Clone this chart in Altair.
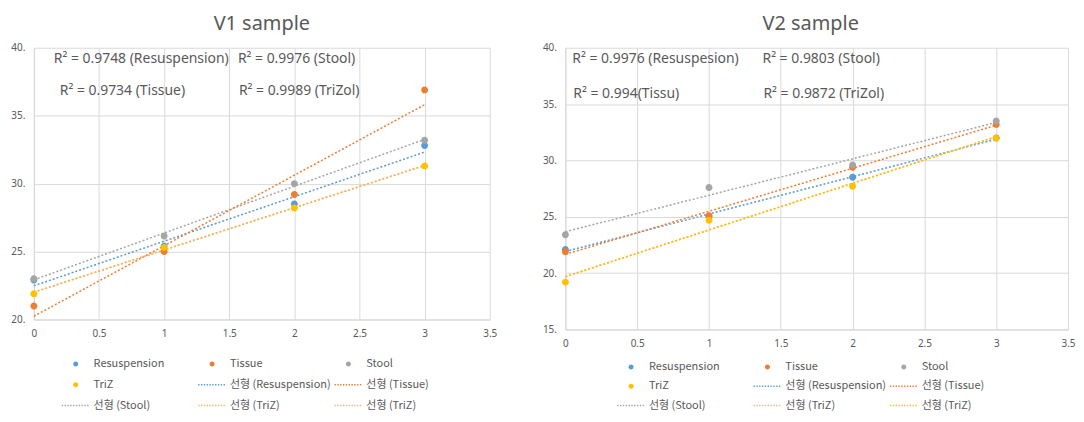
import altair as alt
import pandas as pd

# ---------------- data ----------------
x_vals = [0, 1, 2, 3]
series_names = ["Resuspension", "Tissue", "Stool", "TriZ"]

v1_resuspension = [22.9, 25.4, 28.5, 32.8]
v1_tissue = [21.0, 25.0, 29.2, 36.9]
v1_stool = [23.0, 26.15, 30.0, 33.2]
v1_triz = [21.9, 25.3, 28.2, 31.3]

v2_resuspension = [22.1, 25.0, 28.5, 32.0]
v2_tissue = [21.9, 25.1, 29.4, 33.2]
v2_stool = [23.4, 27.6, 29.6, 33.5]
v2_triz = [19.2, 24.7, 27.7, 32.0]

v1_r2_labels = ["R² = 0.9748 (Resuspension)", "R² = 0.9976 (Stool)",
                "R² = 0.9734 (Tissue)", "R² = 0.9989 (TriZol)"]
v2_r2_labels = ["R² = 0.9976 (Resuspesion)", "R² = 0.9803 (Stool)",
                "R² = 0.994(Tissu)", "R² = 0.9872 (TriZol)"]

trend_names = ["선형 (Resuspension)", "선형 (Tissue)", "선형 (Stool)",
               "선형 (TriZ)", "선형 (TriZ) "]
legend_labels = series_names + trend_names

x_ticks = [0, 0.5, 1, 1.5, 2, 2.5, 3, 3.5]
v1_y_ticks = [20, 25, 30, 35, 40]
v2_y_ticks = [15, 20, 25, 30, 35, 40]

# ---------------- styles ----------------
BLUE, ORANGE, GREY, YELLOW = "#5B9BD5", "#ED7D31", "#A5A5A5", "#FFC000"
LIGHT_ORANGE = "#F4B183"
TEXT = "#595959"
GRID = "#D9D9D9"

point_colors = [BLUE, ORANGE, GREY, YELLOW]

# custom symbol paths (unit box -1..1)
CIRCLE = "M0.24,0A0.24,0.24,0,1,1,-0.24,0A0.24,0.24,0,1,1,0.24,0Z"


def dotted_path(half=1.33, dot=0.13, gap=0.14, t=0.07):
    parts = []
    x = -half
    while x + dot <= half + 1e-9:
        a, b = x, x + dot
        parts.append(f"M{a:.3f},{-t}L{b:.3f},{-t}L{b:.3f},{t}L{a:.3f},{t}Z")
        x += dot + gap
    return "".join(parts)


DOTS = dotted_path()
legend_shapes = [CIRCLE] * 4 + [DOTS] * 5


def panel(title, values, y_min, y_ticks, width, height, r2_labels, r2_pos,
          legend_x, legend_dy, legend_row_pad, trend_colors, title_dx):
    rows = []
    for name, ys in zip(series_names, values):
        for xv, yv in zip(x_vals, ys):
            rows.append({"series": name, "x": xv, "y": yv})
    pts = pd.DataFrame(rows)
    trend_rows = [dict(r, trend="선형 (" + r["series"] + ")") for r in rows]
    trend_rows += [dict(r, trend="선형 (TriZ) ") for r in rows if r["series"] == "TriZ"]
    trend = pd.DataFrame(trend_rows)

    x_enc = alt.X("x:Q", scale=alt.Scale(domain=[0, 3.5], nice=False, zero=False),
                  axis=alt.Axis(values=x_ticks, labelExpr="'' + datum.value", title=None,
                                labelFlush=False))
    y_enc = alt.Y("y:Q", scale=alt.Scale(domain=[y_min, 40], nice=False, zero=False),
                  axis=alt.Axis(values=y_ticks, labelExpr="datum.value + '.'", title=None))

    lines = alt.Chart(trend).transform_regression(
        "x", "y", groupby=["trend"]
    ).mark_line(strokeDash=[2, 2], strokeWidth=1.5).encode(
        x=x_enc, y=y_enc,
        stroke=alt.Stroke("trend:N", scale=alt.Scale(domain=trend_names, range=trend_colors),
                          legend=None),
    )

    leg = alt.Legend(title=None, orient="none", legendX=legend_x, legendY=height + legend_dy,
                     direction="horizontal", columns=3, gridAlign="all", columnPadding=3,
                     rowPadding=legend_row_pad, symbolSize=441, labelFont="Noto Sans CJK KR",
                     labelFontSize=11, labelColor=TEXT, labelOffset=7.5, padding=0,
                     symbolStrokeWidth=0)
    legend_colors = point_colors + trend_colors
    points = alt.Chart(pts).mark_point(filled=True, size=852, opacity=1).encode(
        x=x_enc, y=y_enc,
        color=alt.Color("series:N", scale=alt.Scale(domain=legend_labels, range=legend_colors),
                        legend=leg),
        shape=alt.Shape("series:N", scale=alt.Scale(domain=legend_labels, range=legend_shapes),
                        legend=leg),
    )

    texts = []
    for lab, (px, py) in zip(r2_labels, r2_pos):
        texts.append(
            alt.Chart(pd.DataFrame({"t": [lab]})).mark_text(
                align="left", baseline="middle", font="Noto Sans", fontSize=14,
                color=TEXT, x=px, y=py
            ).encode(text="t:N")
        )

    return alt.layer(lines, points, *texts).properties(
        width=width, height=height,
        title=alt.TitleParams(title, fontSize=20, font="Noto Sans", color=TEXT,
                              fontWeight="normal", anchor="middle", frame="group",
                              dx=title_dx, offset=9),
    )


p1 = panel("V1 sample", [v1_resuspension, v1_tissue, v1_stool, v1_triz], 20, v1_y_ticks,
           458, 273, v1_r2_labels, [(20, 11), (205, 11), (26, 43), (206, 43)],
           31.5, 34, 5, [BLUE, ORANGE, GREY, YELLOW, LIGHT_ORANGE], 0)
p2 = panel("V2 sample", [v2_resuspension, v2_tissue, v2_stool, v2_triz], 15, v2_y_ticks,
           505, 283, v2_r2_labels, [(7, 11), (198, 11), (8, 46), (199, 46)],
           55.5, 27, 3.5, [BLUE, ORANGE, GREY, LIGHT_ORANGE, YELLOW], -6)

chart = alt.hconcat(p1, p2, spacing=76, bounds="flush").resolve_scale(
    color="independent", shape="independent", stroke="independent",
    x="independent", y="independent"
).resolve_legend(color="independent", shape="independent").properties(
    padding={"left": 2, "top": 5, "right": 0, "bottom": 0}
).configure_view(stroke=None).configure_axis(
    labelFont="Noto Sans", labelFontSize=10, labelColor=TEXT,
    gridColor=GRID, domainColor=GRID, ticks=False, labelPadding=9,
)

chart.save("out.html", embed_options={"renderer": "svg", "actions": False})
